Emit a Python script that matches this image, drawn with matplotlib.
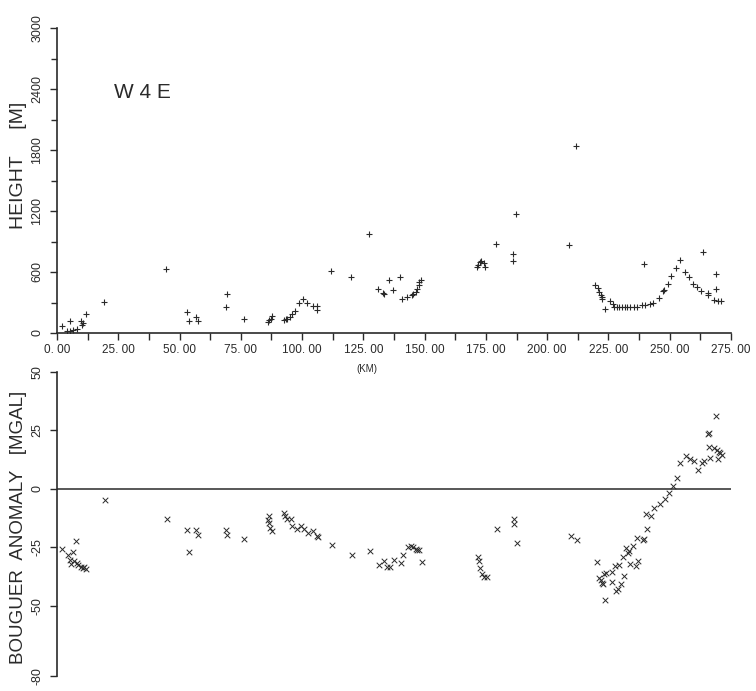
import numpy as np
import matplotlib
matplotlib.use('Agg')
import matplotlib.pyplot as plt
from matplotlib import font_manager
from matplotlib.ticker import MultipleLocator, FixedLocator

# profile W4E : station distance [km] vs. height [m]
height_km = [1.9, 5.3, 3.9, 5.3, 6.6, 8.0, 9.8, 10.0, 10.7, 11.8, 19.3, 44.4,
             53.2, 54.0, 56.6, 57.6, 69.2, 68.9, 76.4, 86.2, 86.6, 87.2, 87.8,
             92.5, 93.3, 94.0, 95.0, 96.0, 97.0, 98.9, 100.3, 102.0, 104.3, 106.0, 106.0,
             111.8, 120.0, 127.3, 130.9, 133.0, 133.6, 135.5, 137.0, 140.0, 140.9,
             142.7, 144.8, 145.4, 146.4, 147.0, 147.5, 147.8, 148.5,
             171.3, 171.9, 172.6, 173.0, 174.4, 174.7, 179.0, 186.2, 186.2, 187.2,
             209.1, 211.6, 219.6, 220.6, 221.3, 222.0, 222.5, 222.3, 223.5, 225.7,
             226.8, 227.4, 228.4, 229.5, 230.4, 231.8, 232.5, 233.8, 235.5, 236.8,
             238.6, 239.7, 240.0, 242.0, 243.1, 245.7, 247.4, 247.6, 249.2, 250.7,
             252.5, 254.2, 256.2, 258.0, 259.4, 261.3, 262.9, 263.5, 265.8, 265.8,
             268.2, 268.8, 268.8, 269.6, 271.0]
height_m = [65, 114, 16, 16, 26, 42, 121, 75, 98, 190, 301, 630,
            203, 114, 157, 114, 387, 252, 138, 104, 124, 138, 163,
            128, 134, 140, 155, 185, 215, 298, 330, 295, 262, 262, 225,
            606, 547, 974, 436, 390, 387, 521, 426, 551, 337,
            354, 372, 380, 400, 433, 475, 498, 524,
            645, 672, 698, 711, 688, 645, 872, 777, 711, 1167,
            862, 1842, 475, 442, 403, 370, 352, 330, 239, 311,
            288, 252, 252, 258, 252, 258, 252, 252, 252, 255,
            272, 678, 278, 288, 295, 344, 409, 426, 485, 564,
            642, 721, 596, 547, 485, 449, 416, 797, 393, 377,
            321, 583, 436, 311, 311]

# bouguer anomaly [mgal]
bouguer_km = [2.0, 4.3, 5.3, 5.6, 6.6, 7.0, 7.6, 8.0, 8.7, 9.8, 10.5, 11.2, 12.0,
              19.6, 44.7, 53.2, 54.0, 56.6, 57.6, 68.9, 69.5, 76.4,
              86.6, 86.2, 86.5, 86.9, 87.8, 92.5, 93.0, 94.0, 95.3, 96.0, 97.8,
              99.6, 100.9, 102.5, 104.6, 106.0, 106.6, 112.1, 120.5, 127.8,
              131.5, 133.6, 134.5, 135.9, 137.4, 140.4, 141.3, 143.1, 144.4,
              145.4, 146.4, 147.0, 147.8, 148.9,
              171.7, 172.2, 172.7, 173.3, 174.2, 175.3, 179.4, 186.5, 186.5, 187.8,
              209.8, 212.3,
              220.2, 223.6, 221.3, 221.9, 222.3, 222.9, 223.2, 224.0, 226.4, 226.6,
              227.7, 228.1, 228.8, 229.1, 230.2, 230.9, 231.5, 232.2, 232.9, 233.4,
              233.8, 235.2, 236.2, 237.2, 236.8, 238.9, 239.6, 240.7, 240.4, 242.4,
              243.6, 246.1, 248.1, 249.5, 251.3, 252.9, 254.2, 256.7, 258.3, 259.7,
              261.7, 263.1, 263.8, 265.8, 266.1, 266.2, 266.5, 268.1, 268.9, 269.5,
              269.2, 269.9, 270.6, 271.5]
bouguer_mgal = [-25.6, -28.1, -30.5, -32.0, -27.1, -30.8, -22.2, -31.8, -32.5, -33.5, -34.0, -33.6, -34.2,
                -4.7, -12.8, -17.5, -27.0, -17.5, -19.9, -17.5, -19.9, -21.5,
                -11.5, -13.2, -14.6, -16.5, -17.8, -10.4, -11.5, -12.9, -12.8, -15.8, -17.2,
                -16.0, -17.2, -18.9, -18.2, -20.0, -20.7, -24.0, -28.3, -26.4,
                -32.4, -30.7, -33.5, -33.5, -30.5, -31.7, -28.4, -24.9, -24.6,
                -24.9, -25.7, -26.3, -26.0, -31.3,
                -29.1, -30.7, -33.8, -36.4, -37.6, -37.6, -17.2, -12.8, -15.0, -23.2,
                -20.3, -21.7,
                -31.4, -47.6, -38.1, -39.1, -40.2, -40.5, -36.4, -35.9, -35.7, -39.8,
                -33.1, -43.8, -42.8, -32.7, -40.6, -29.3, -37.4, -25.3, -27.4, -26.7,
                -32.0, -24.6, -32.8, -31.0, -21.0, -21.7, -21.3, -17.2, -10.7, -11.5,
                -8.2, -6.4, -4.3, -1.8, 1.3, 4.6, 11.0, 14.2, 12.7, 12.1,
                8.1, 11.2, 12.1, 23.4, 24.0, 17.8, 13.1, 17.3, 31.1, 12.7,
                16.6, 15.9, 15.2, 14.5]

km_ticks = [0, 25, 50, 75, 100, 125, 150, 175, 200, 225, 250, 275]
height_ticks = [0, 600, 1200, 1800, 2400, 3000]
bouguer_ticks = [50, 25, 0, -25, -50, -80]

INK = '#2a2a2a'
FONT = 'Liberation Sans'
_names = {f.name for f in font_manager.fontManager.ttflist}
NARROW = next((n for n in ('Liberation Sans Narrow', 'DejaVu Sans Condensed') if n in _names), FONT)
YTICK_SIZE = 10 if NARROW != FONT else 9


def style_left(ax):
    for s in ('top', 'right', 'bottom'):
        ax.spines[s].set_visible(False)
    ax.spines['left'].set_color(INK)
    ax.spines['left'].set_linewidth(1.2)
    ax.tick_params(axis='y', which='both', direction='out', color=INK, width=1.0,
                   labelsize=YTICK_SIZE, labelcolor=INK, pad=5)
    ax.tick_params(axis='y', which='major', length=5)
    ax.tick_params(axis='y', which='minor', length=4)
    for lab in ax.get_yticklabels():
        lab.set_rotation(90)
        lab.set_va('center')
        lab.set_family(NARROW)


def main():
    fig = plt.figure(figsize=(7.56, 6.91), dpi=100)

    # --- bouguer anomaly (drawn first so its background stays under the km label)
    ax2 = fig.add_axes([57 / 756, 1 - 676 / 691, 674 / 756, 304 / 691])
    ax2.patch.set_visible(False)
    ax2.scatter(bouguer_km, bouguer_mgal, marker='x', s=16, color=INK, linewidths=0.7, zorder=3)
    ax2.axhline(0, color=INK, lw=1.1, zorder=2)
    ax2.set_xlim(0, 275)
    ax2.set_ylim(-80, 50)
    ax2.yaxis.set_major_locator(FixedLocator(bouguer_ticks))
    ax2.set_yticklabels([str(t) for t in bouguer_ticks])
    ax2.set_xticks([])
    style_left(ax2)
    ax2.set_ylabel('BOUGUER  ANOMALY   [MGAL]', fontsize=13.5, family=FONT, color=INK)
    ax2.yaxis.set_label_coords(-0.045, 0.49)

    # --- height profile
    ax1 = fig.add_axes([57 / 756, 1 - 333 / 691, 674 / 756, 305 / 691])
    ax1.patch.set_visible(False)
    ax1.scatter(height_km, height_m, marker='+', s=22, color=INK, linewidths=0.8, zorder=3)
    ax1.set_xlim(0, 275)
    ax1.set_ylim(0, 3000)
    ax1.set_yticks(height_ticks)
    ax1.set_yticklabels([str(t) for t in height_ticks])
    ax1.yaxis.set_minor_locator(MultipleLocator(300))
    style_left(ax1)
    ax1.spines['bottom'].set_visible(True)
    ax1.spines['bottom'].set_color(INK)
    ax1.spines['bottom'].set_linewidth(1.2)
    ax1.set_xticks(km_ticks)
    ax1.set_xticklabels(['%d. 00' % t for t in km_ticks])
    ax1.xaxis.set_minor_locator(MultipleLocator(12.5))
    ax1.tick_params(axis='x', which='both', direction='out', length=5, width=1.0,
                    color=INK, labelsize=8.5, labelcolor=INK, pad=3)
    for lab in ax1.get_xticklabels():
        lab.set_family(FONT)
    ax1.set_xlabel('(KM)', fontsize=7, family=FONT, color=INK, labelpad=0)
    ax1.xaxis.set_label_coords(0.46, -0.1)
    ax1.set_ylabel('HEIGHT     [M]', fontsize=14, family=FONT, color=INK)
    ax1.yaxis.set_label_coords(-0.045, 0.55)
    ax1.text(35, 2370, 'W 4 E', fontsize=15, family=FONT, color=INK, ha='center', va='center')

    fig.savefig('out.png', dpi=100, facecolor='white')


if __name__ == '__main__':
    main()
